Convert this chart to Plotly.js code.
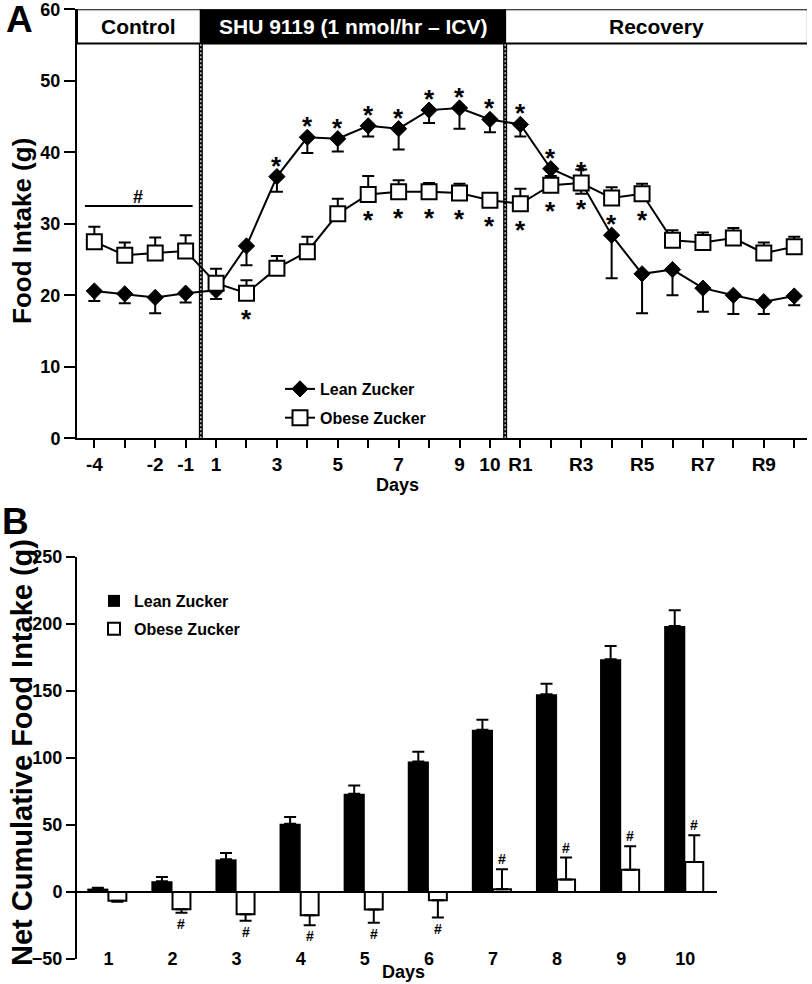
<!DOCTYPE html>
<html>
<head>
<meta charset="utf-8">
<script src="https://cdn.plot.ly/plotly-3.0.1.min.js"></script>
<style>html,body{margin:0;padding:0;background:#fff;}#chart{width:812px;height:984px;}</style>
</head>
<body>
<div id="chart"></div>
<script>
// ---------- Panel A data ----------
const dayLabels = ['-4','-3','-2','-1','1','2','3','4','5','6','7','8','9','10','R1','R2','R3','R4','R5','R6','R7','R8','R9','R10'];
const dayTickText = ['-4','','-2','-1','1','','3','','5','','7','','9','10','R1','','R3','','R5','','R7','','R9',''];
const leanIntake = [20.6,20.2,19.7,20.3,20.7,26.9,36.6,42.1,41.9,43.7,43.3,45.9,46.2,44.6,43.9,37.7,35.8,28.4,23.0,23.6,21.0,20.0,19.1,19.9];
const leanSem    = [1.4,1.3,2.2,1.3,1.2,2.7,2.1,2.2,1.8,1.5,2.9,1.8,2.9,1.8,1.7,1.0,1.6,6.0,5.5,3.6,3.3,2.6,1.7,1.3];
const obeseIntake = [27.5,25.6,25.9,26.2,21.7,20.3,23.8,26.1,31.4,34.1,34.5,34.5,34.3,33.3,32.8,35.4,35.7,33.6,34.2,27.7,27.4,28.0,25.9,26.8];
const obeseSem    = [2.1,1.8,2.2,2.2,2.0,1.8,1.7,2.1,2.1,2.6,1.6,1.2,1.3,1.0,2.1,1.0,1.9,1.5,1.4,1.4,1.4,1.4,1.5,1.4];
const leanSig  = [0,0,0,0,0,0,1,1,1,1,1,1,1,1,1,1,1,0,0,0,0,0,0,0];
const obeseSig = [0,0,0,0,0,1,0,0,0,1,1,1,1,1,1,1,1,1,1,0,0,0,0,0];
const phaseLabels = ['Control','SHU 9119 (1 nmol/hr \u2013 ICV)','Recovery'];

// ---------- Panel B data ----------
const cumDays = [1,2,3,4,5,6,7,8,9,10];
const leanCum    = [2.5,8.0,24.3,50.8,73.2,97.2,121.0,147.5,173.5,198.3];
const leanCumSem = [0.6,3.2,4.7,5.0,6.1,7.4,7.4,7.7,9.9,11.7];
const obeseCum    = [-6.5,-12.9,-16.6,-17.3,-13.1,-6.2,2.0,9.2,16.6,22.3];
const obeseCumSem = [0.8,2.7,4.9,7.5,9.9,12.9,14.9,16.4,17.4,19.9];
const obeseCumSig = [0,1,1,1,1,1,1,1,1,1];

const FONT = 'Liberation Sans, Arial, Helvetica, sans-serif';
const W = 812, H = 984;
const px = v => v / W;
const py = v => 1 - v / H;
const zeros = n => new Array(n).fill(0);

const traces = [
  {
    type: 'scatter', mode: 'lines+markers', name: 'Lean Zucker', legendgroup: 'leanA',
    x: dayLabels, y: leanIntake, xaxis: 'x', yaxis: 'y', legend: 'legend',
    line: {color: '#000', width: 2},
    marker: {symbol: 'diamond', size: 12.5, color: '#000', line: {color: '#000', width: 1}},
    error_y: {type: 'data', symmetric: false, array: zeros(leanSem.length), arrayminus: leanSem, color: '#000', thickness: 2, width: 6},
    hoverinfo: 'skip'
  },
  {
    type: 'scatter', mode: 'lines+markers', name: 'Obese Zucker', legendgroup: 'obeseA',
    x: dayLabels, y: obeseIntake, xaxis: 'x', yaxis: 'y', legend: 'legend',
    line: {color: '#000', width: 2},
    marker: {symbol: 'square', size: 15, color: '#fff', line: {color: '#000', width: 2}},
    error_y: {type: 'data', symmetric: false, array: obeseSem, arrayminus: zeros(obeseSem.length), color: '#000', thickness: 2, width: 6},
    hoverinfo: 'skip'
  },
  {
    type: 'bar', name: 'Lean Zucker', legendgroup: 'leanB', x: cumDays, y: leanCum, xaxis: 'x2', yaxis: 'y2', legend: 'legend2',
    width: 0.33, offset: -0.33,
    marker: {color: '#000', line: {color: '#000', width: 0}},
    error_y: {type: 'data', symmetric: false, array: leanCumSem, arrayminus: zeros(leanCumSem.length), color: '#000', thickness: 2, width: 6},
    hoverinfo: 'skip'
  },
  {
    type: 'bar', name: 'Obese Zucker', legendgroup: 'obeseB', x: cumDays, y: obeseCum, xaxis: 'x2', yaxis: 'y2', legend: 'legend2',
    width: 0.28, offset: 0,
    marker: {color: '#fff', line: {color: '#000', width: 2}},
    error_y: {type: 'data', symmetric: false,
      array: obeseCum.map((v, i) => v >= 0 ? obeseCumSem[i] : 0),
      arrayminus: obeseCum.map((v, i) => v < 0 ? obeseCumSem[i] : 0),
      color: '#000', thickness: 2, width: 6},
    hoverinfo: 'skip'
  }
];

const annotations = [];
function ann(o) { annotations.push(Object.assign({showarrow: false, font: {family: FONT, size: 18, color: '#000', weight: 'bold'}}, o)); }
const tf = (s, c) => ({family: FONT, size: s, color: c || '#000', weight: 'bold'});

// Panel letters
ann({xref: 'paper', yref: 'paper', x: px(19), y: py(20), text: 'A', font: tf(37), xanchor: 'center', yanchor: 'middle'});
ann({xref: 'paper', yref: 'paper', x: px(15), y: py(521), text: 'B', font: tf(37), xanchor: 'center', yanchor: 'middle'});

// Axis titles
ann({xref: 'paper', yref: 'paper', x: px(22), y: py(231), text: 'Food Intake (g)', textangle: -90, font: tf(26), xanchor: 'center', yanchor: 'middle'});
ann({xref: 'paper', yref: 'paper', x: px(22), y: py(753), text: 'Net Cumulative Food Intake (g)', textangle: -90, font: tf(29), xanchor: 'center', yanchor: 'middle'});
ann({xref: 'paper', yref: 'paper', x: px(397), y: py(485), text: 'Days', font: tf(18), xanchor: 'center', yanchor: 'middle'});
ann({xref: 'paper', yref: 'paper', x: px(403), y: py(972), text: 'Days', font: tf(18), xanchor: 'center', yanchor: 'middle'});

// Phase header labels (x in category index units)
const phaseCenters = [(-0.57 + 3.5) / 2, (3.5 + 13.5) / 2, (13.5 + 23.45) / 2];
phaseLabels.forEach((t, i) => ann({xref: 'x', yref: 'y', x: phaseCenters[i], y: 57.6, text: t,
  font: tf(21, i === 1 ? '#fff' : '#000'), xanchor: 'center', yanchor: 'middle'}));

// Control '#'
ann({xref: 'x', yref: 'y', x: 1.45, y: 32.5, yshift: 9, text: '#', font: tf(18), xanchor: 'center', yanchor: 'middle'});

// Asterisks panel A
leanSig.forEach((s, i) => { if (s) ann({xref: 'x', yref: 'y', x: i, y: leanIntake[i], yshift: 11, text: '*', font: tf(26), xanchor: 'center', yanchor: 'middle'}); });
obeseSig.forEach((s, i) => { if (s) ann({xref: 'x', yref: 'y', x: i, y: obeseIntake[i], yshift: -26, text: '*', font: tf(26), xanchor: 'center', yanchor: 'middle'}); });

// '#' panel B
obeseCumSig.forEach((s, i) => {
  if (!s) return;
  const v = obeseCum[i], e = obeseCumSem[i];
  const neg = v < 0;
  ann({xref: 'x2', yref: 'y2', x: cumDays[i] + 0.14, y: neg ? v - e : v + e, yshift: neg ? -11 : 10, text: '#',
    font: tf(14), xanchor: 'center', yanchor: 'middle'});
});

const shapes = [
  // header boxes
  {type: 'rect', xref: 'x', yref: 'y', x0: -0.57, x1: 3.5, y0: 55.2, y1: 60, fillcolor: '#fff', line: {color: '#000', width: 2}, layer: 'below'},
  {type: 'rect', xref: 'x', yref: 'y', x0: 3.5, x1: 13.5, y0: 55.2, y1: 60, fillcolor: '#000', line: {color: '#000', width: 2}, layer: 'below'},
  {type: 'rect', xref: 'x', yref: 'y', x0: 13.5, x1: 23.45, y0: 55.2, y1: 60, fillcolor: '#fff', line: {color: '#000', width: 2}, layer: 'below'},
  // phase dividers: black band with a white dotted core
  {type: 'line', xref: 'x', yref: 'y', x0: 3.5, x1: 3.5, y0: 0, y1: 55.2, line: {color: '#000', width: 4}, layer: 'below'},
  {type: 'line', xref: 'x', yref: 'y', x0: 3.5, x1: 3.5, y0: 0, y1: 55.2, line: {color: '#fff', width: 1.2, dash: '2px,2px'}, layer: 'below'},
  {type: 'line', xref: 'x', yref: 'y', x0: 13.5, x1: 13.5, y0: 0, y1: 55.2, line: {color: '#000', width: 4}, layer: 'below'},
  {type: 'line', xref: 'x', yref: 'y', x0: 13.5, x1: 13.5, y0: 0, y1: 55.2, line: {color: '#fff', width: 1.2, dash: '2px,2px'}, layer: 'below'},
  // control significance bar
  {type: 'line', xref: 'x', yref: 'y', x0: -0.31, x1: 3.23, y0: 32.5, y1: 32.5, line: {color: '#000', width: 2}}
];

const layout = {
  width: W, height: H,
  margin: {l: 0, r: 0, t: 0, b: 0, pad: 0},
  paper_bgcolor: '#fff', plot_bgcolor: 'rgba(0,0,0,0)',
  font: {family: FONT, color: '#000', size: 18, weight: 'bold'},
  showlegend: true,
  xaxis: {
    domain: [px(77), px(807)], anchor: 'y', type: 'category',
    range: [-0.57, 23.42], tickvals: dayLabels, ticktext: dayTickText,
    ticks: 'outside', ticklen: 8, tickwidth: 2, tickcolor: '#000',
    showline: true, linewidth: 2, linecolor: '#000',
    showgrid: false, zeroline: false, tickfont: tf(19), ticklabelstandoff: 0, fixedrange: true
  },
  yaxis: {
    domain: [py(438.3), py(9.3)], anchor: 'x',
    range: [0, 60], tickvals: [0,10,20,30,40,50,60],
    ticks: 'outside', ticklen: 11, tickwidth: 2, tickcolor: '#000',
    showline: true, linewidth: 2, linecolor: '#000', ticklabeloverflow: 'allow',
    showgrid: false, zeroline: false, tickfont: tf(18), fixedrange: true
  },
  xaxis2: {
    domain: [px(77), px(716.7)], anchor: 'free', position: py(946),
    range: [0.51, 10.49], tickvals: cumDays, ticks: '',
    showline: false, showgrid: false, zeroline: false, tickfont: tf(18), fixedrange: true
  },
  yaxis2: {
    domain: [py(959), py(556.7)], anchor: 'x2',
    range: [-50, 250], tickvals: [-50,0,50,100,150,200,250],
    ticks: 'outside', ticklen: 9, tickwidth: 2, tickcolor: '#000',
    showline: true, linewidth: 2, linecolor: '#000', ticklabeloverflow: 'allow',
    showgrid: false, zeroline: true, zerolinecolor: '#000', zerolinewidth: 2,
    tickfont: tf(18), fixedrange: true
  },
  legend: {x: px(280), xanchor: 'left', y: py(372), yanchor: 'top', bgcolor: 'rgba(0,0,0,0)', font: tf(16), tracegroupgap: 5},
  legend2: {x: px(94), xanchor: 'left', y: py(584), yanchor: 'top', bgcolor: 'rgba(0,0,0,0)', font: tf(16), tracegroupgap: 4},
  annotations: annotations,
  shapes: shapes
};

Plotly.newPlot('chart', traces, layout, {displayModeBar: false, staticPlot: true});
</script>
</body>
</html>
